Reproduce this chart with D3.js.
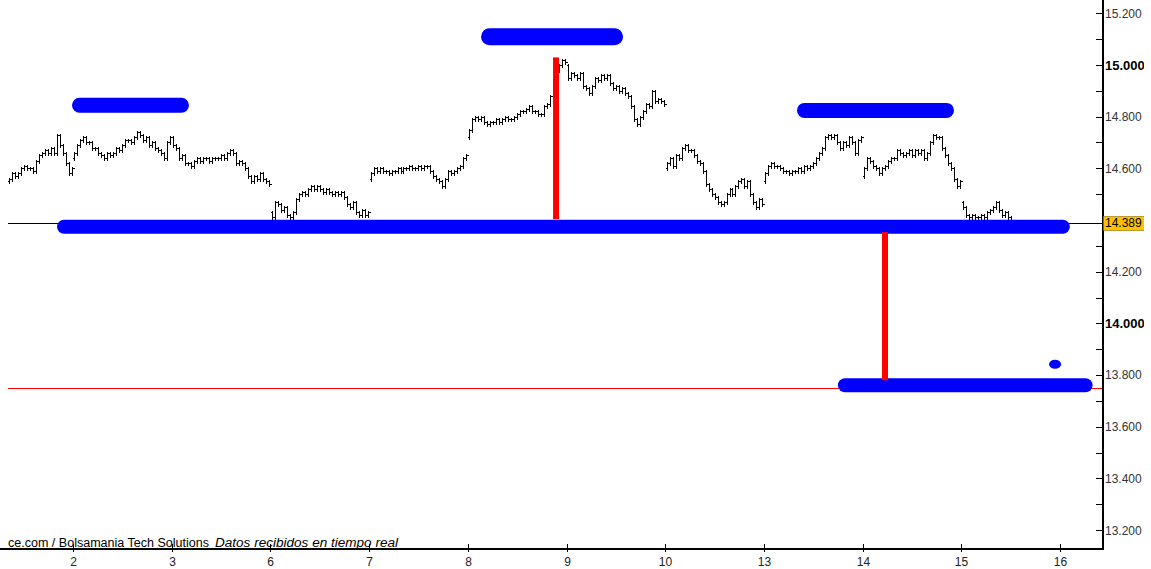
<!DOCTYPE html>
<html><head><meta charset="utf-8">
<script src="https://cdn.jsdelivr.net/npm/d3@7"></script>
<style>
body{margin:0;background:#fff}
svg{display:block}
text{font-family:"Liberation Sans",Arial,sans-serif}
</style>
</head><body>
<svg id="c" width="1151" height="569"></svg>
<script>
// ---- data ----
const days = ["1","2","3","6","7","8","9","10","13","14","15","16"];
const yTicks = [15.2,15.0,14.8,14.6,14.2,14.0,13.8,13.6,13.4,13.2];
const yTickLabels = ["15.200","15.000","14.800","14.600","14.200","14.000","13.800","13.600","13.400","13.200"];
const yBold = [15.0,14.0];
const yMinor = [15.1,14.9,14.7,14.5,14.3,14.1,13.9,13.7,13.5,13.3];
const lastPrice = 14.389, lastLabel = "14.389";
const supportLevel = 13.75;

// intraday closes, one array per session
const day1 = [14.56,14.58,14.57,14.58,14.60,14.61,14.60,14.60,14.59,14.63,14.65,14.66,14.67,14.66,14.68,14.66,14.73,14.69,14.66,14.62,14.58,14.60];
const day2 = [14.66,14.69,14.71,14.72,14.70,14.70,14.68,14.68,14.66,14.65,14.64,14.66,14.65,14.66,14.68,14.67,14.69,14.71,14.71,14.70,14.72,14.74,14.73,14.71,14.72,14.69,14.70,14.68,14.67,14.66,14.64,14.70,14.72];
const day3 = [14.69,14.68,14.64,14.65,14.62,14.62,14.61,14.63,14.64,14.63,14.64,14.64,14.63,14.64,14.64,14.64,14.65,14.64,14.66,14.67,14.66,14.62,14.63,14.62,14.60,14.57,14.55,14.57,14.56,14.58,14.56,14.55,14.54];
const day6 = [14.41,14.47,14.46,14.44,14.45,14.42,14.41,14.43,14.48,14.50,14.51,14.50,14.52,14.53,14.52,14.53,14.52,14.51,14.52,14.51,14.50,14.51,14.50,14.51,14.49,14.46,14.45,14.47,14.43,14.42,14.44,14.42,14.43];
const day7 = [14.58,14.60,14.59,14.60,14.59,14.59,14.58,14.59,14.59,14.60,14.59,14.60,14.60,14.61,14.60,14.60,14.61,14.60,14.61,14.61,14.59,14.57,14.56,14.55,14.53,14.56,14.59,14.58,14.59,14.60,14.61,14.64,14.65];
const day8 = [14.75,14.79,14.80,14.79,14.80,14.78,14.77,14.78,14.78,14.79,14.78,14.79,14.80,14.79,14.79,14.80,14.81,14.82,14.82,14.83,14.84,14.82,14.82,14.81,14.81,14.84,14.85,14.88,14.94,14.98,15.00,15.02,15.01];
const day9 = [14.95,14.97,14.96,14.95,14.97,14.92,14.91,14.89,14.92,14.95,14.94,14.96,14.95,14.96,14.93,14.91,14.92,14.90,14.91,14.89,14.88,14.84,14.79,14.77,14.80,14.82,14.85,14.84,14.90,14.86,14.87,14.86,14.85];
const day10 = [14.62,14.64,14.61,14.65,14.64,14.68,14.69,14.67,14.67,14.65,14.63,14.62,14.59,14.54,14.52,14.50,14.49,14.47,14.46,14.47,14.50,14.52,14.50,14.53,14.55,14.56,14.53,14.55,14.50,14.47,14.45,14.48,14.46];
const day13 = [14.58,14.61,14.62,14.61,14.61,14.60,14.59,14.59,14.58,14.59,14.59,14.60,14.59,14.61,14.60,14.61,14.62,14.64,14.66,14.68,14.72,14.73,14.72,14.73,14.70,14.68,14.70,14.69,14.72,14.70,14.66,14.71,14.72];
const day14 = [14.60,14.64,14.63,14.61,14.60,14.58,14.60,14.61,14.63,14.64,14.64,14.67,14.66,14.65,14.66,14.67,14.65,14.67,14.66,14.67,14.64,14.66,14.70,14.73,14.72,14.72,14.68,14.65,14.62,14.60,14.56,14.53,14.55];
const day15 = [14.45,14.42,14.41,14.42,14.41,14.41,14.42,14.41,14.43,14.44,14.45,14.47,14.44,14.42,14.43,14.41,14.40];
const sessionOpens = [14.55,14.64,14.72,14.43,14.56,14.72,15.00,14.60,14.55,14.57,14.47];

// hand-drawn annotations (x in session units, y in price)
const blueStart = [0.99, 5.134, 8.335, 0.838, 8.75];
const blueEnd   = [2.175, 6.573, 9.926, 11.10, 11.33];
const blueLevel = [14.844, 15.109, 14.824, 14.374, 13.761];
const blueThick = [15, 17, 15, 14, 14];
const dotPos = [10.95, 13.842];
const redX = [5.894, 9.227];
const redTop = [15.029, 14.353];
const redBottom = [14.403, 13.780];

// ---- chart ----
const sessions = [day1,day2,day3,day6,day7,day8,day9,day10,day13,day14,day15];
const SLOTS = 33;
const svg = d3.select("#c");
const W = 1151, H = 569;
const plotL = 8, plotR = 1102, axisY = 549;

const x = d3.scaleLinear().domain([0, 12]).range([-25.7, 1158.7]);
const y = d3.scaleLinear().domain([13.2, 15.2]).range([530.2, 13.2]);

const defs = svg.append("defs");
defs.append("clipPath").attr("id","plot").append("rect")
  .attr("x", plotL).attr("y", 0).attr("width", plotR - plotL).attr("height", axisY);
defs.append("clipPath").attr("id","lab").append("rect")
  .attr("x", 1103).attr("y", 0).attr("width", 41).attr("height", H);

const plot = svg.append("g").attr("clip-path","url(#plot)");

// thin level lines
plot.append("line").attr("x1", plotL).attr("x2", plotR)
  .attr("y1", Math.round(y(lastPrice))+0.5).attr("y2", Math.round(y(lastPrice))+0.5)
  .attr("stroke","#000").attr("stroke-width",1);
plot.append("line").attr("x1", plotL).attr("x2", plotR)
  .attr("y1", Math.round(y(supportLevel))+0.5).attr("y2", Math.round(y(supportLevel))+0.5)
  .attr("stroke","#f00").attr("stroke-width",1);

// OHLC-style price bars
const barG = plot.append("g").attr("fill","none").attr("stroke","#000").attr("stroke-width",1)
  .attr("shape-rendering","crispEdges");
sessions.forEach((arr, k) => {
  const off = k === 0 ? SLOTS - arr.length : 0;
  let prev = sessionOpens[k];
  arr.forEach((c, i) => {
    const o = prev;
    const xb = Math.round(x(k + (off + i + 0.5) / SLOTS)) + 0.5;
    const yo = Math.round(y(o)) + 0.5, yc = Math.round(y(c)) + 0.5;
    const yh = Math.min(yo, yc) - 2, yl = Math.max(yo, yc) + 2;
    barG.append("path").attr("d",
      `M${xb},${yh}V${yl}M${xb-2},${yo}H${xb}M${xb},${yc}H${xb+2}`);
    prev = c;
  });
});

// blue annotation bars
const ann = plot.append("g");
blueLevel.forEach((v, i) => {
  const t = blueThick[i];
  ann.append("rect")
    .attr("x", x(blueStart[i])).attr("width", x(blueEnd[i]) - x(blueStart[i]))
    .attr("y", y(v) - t/2).attr("height", t)
    .attr("rx", t/2).attr("ry", t/2).attr("fill","#0000ff");
});
ann.append("ellipse").attr("cx", x(dotPos[0])).attr("cy", y(dotPos[1]))
  .attr("rx", 6).attr("ry", 4.5).attr("fill","#0000ff");

// red vertical markers
redX.forEach((d, i) => {
  ann.append("rect").attr("x", x(d) - 3).attr("width", 6)
    .attr("y", y(redTop[i])).attr("height", y(redBottom[i]) - y(redTop[i]))
    .attr("fill","#ff0000");
});

// footer text
const foot = svg.append("g");
foot.append("text").attr("x", 8).attr("y", 547)
  .attr("font-size", 12).attr("fill","#000")
  .attr("textLength", 201).attr("lengthAdjust","spacingAndGlyphs")
  .text("ce.com / Bolsamania Tech Solutions");
foot.append("text").attr("x", 215).attr("y", 547)
  .attr("font-size", 12).attr("font-style","italic").attr("fill","#000")
  .attr("textLength", 183).attr("lengthAdjust","spacingAndGlyphs")
  .text("Datos recibidos en tiempo real");

// bottom axis
svg.append("line").attr("x1", 0).attr("x2", plotR + 1).attr("y1", axisY).attr("y2", axisY)
  .attr("stroke","#000").attr("stroke-width",2);
const bx = svg.append("g");
days.forEach((d, i) => {
  if (i === 0) return;
  const px = Math.round(x(i)) + 0.5;
  bx.append("line").attr("x1", px).attr("x2", px).attr("y1", axisY - 5).attr("y2", axisY + 3)
    .attr("stroke","#000").attr("stroke-width",1);
  bx.append("text").attr("x", px).attr("y", 566).attr("text-anchor","middle")
    .attr("font-size", 12).attr("fill","#222").text(d);
});

// right axis
svg.append("line").attr("x1", plotR + 1).attr("x2", plotR + 1).attr("y1", 0).attr("y2", axisY + 1)
  .attr("stroke","#000").attr("stroke-width",2);
const ry = svg.append("g");
yTicks.concat(yMinor).forEach(v => {
  const py = Math.round(y(v)) + 0.5;
  ry.append("line").attr("x1", plotR - 6).attr("x2", plotR).attr("y1", py).attr("y2", py)
    .attr("stroke","#000").attr("stroke-width",1);
});
const labG = svg.append("g").attr("clip-path","url(#lab)");
yTicks.forEach((v, i) => {
  const bold = yBold.includes(v);
  labG.append("text").attr("x", 1105).attr("y", y(v)).attr("dy","0.36em")
    .attr("font-size", bold ? 13 : 12).attr("font-weight", bold ? "bold" : "normal")
    .attr("fill", bold ? "#000" : "#333").text(yTickLabels[i]);
});
// last price box
const ly = y(lastPrice);
labG.append("rect").attr("x", 1103.5).attr("y", Math.round(ly) - 7 + 0.5).attr("width", 41).attr("height", 14)
  .attr("fill","#ffc000").attr("stroke","#8a6d00").attr("stroke-width",0.6);
labG.append("text").attr("x", 1105).attr("y", ly).attr("dy","0.36em")
  .attr("font-size", 12).attr("fill","#000").text(lastLabel);
</script>
</body></html>
